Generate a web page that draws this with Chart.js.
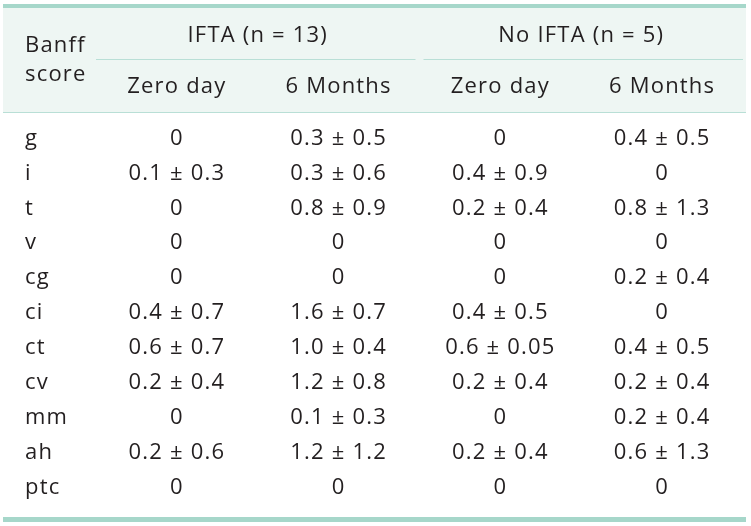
<!DOCTYPE html>
<html>
<head>
<meta charset="utf-8">
<script src="https://cdn.jsdelivr.net/npm/chart.js@4"></script>
<style>
  body { margin: 0; background: #fff; }
  #wrap { width: 751px; height: 526px; }
</style>
</head>
<body>
<div id="wrap"><canvas id="banff_table" width="751" height="526"></canvas></div>
<script>
// table content
const rows = ['g', 'i', 't', 'v', 'cg', 'ci', 'ct', 'cv', 'mm', 'ah', 'ptc']
const columns = ['Zero day', '6 Months', 'Zero day', '6 Months']
const groups = ['IFTA (n = 13)', 'No IFTA (n = 5)']
const iftaZero = ['0', '0.1 ± 0.3', '0', '0', '0', '0.4 ± 0.7', '0.6 ± 0.7', '0.2 ± 0.4', '0', '0.2 ± 0.6', '0']
const iftaSix = ['0.3 ± 0.5', '0.3 ± 0.6', '0.8 ± 0.9', '0', '0', '1.6 ± 0.7', '1.0 ± 0.4', '1.2 ± 0.8', '0.1 ± 0.3', '1.2 ± 1.2', '0']
const noIftaZero = ['0', '0.4 ± 0.9', '0.2 ± 0.4', '0', '0', '0.4 ± 0.5', '0.6 ± 0.05', '0.2 ± 0.4', '0', '0.2 ± 0.4', '0']
const noIftaSix = ['0.4 ± 0.5', '0', '0.8 ± 1.3', '0', '0.2 ± 0.4', '0', '0.4 ± 0.5', '0.2 ± 0.4', '0.2 ± 0.4', '0.6 ± 1.3', '0']
const cells = [iftaZero, iftaSix, noIftaZero, noIftaSix]

const FONT = '22px "Open Sans", sans-serif'
const TEXT = '#231f20'
const TEAL = '#a6d7ca'
const TEAL_THIN = '#b9dfd6'
const BAND = '#eef6f3'

const tablePlugin = {
    id: 'tablePlugin',
    beforeDraw(chart){
        const ctx = chart.ctx
        ctx.letterSpacing = '1.2px'
        // header band
        ctx.fillStyle = BAND
        ctx.fillRect(3, 8, 743, 104)
    },
    afterDraw(chart){
        const ctx = chart.ctx
        const x = chart.scales.x
        const y = chart.scales.y
        const area = chart.chartArea
        ctx.save()
        ctx.letterSpacing = '1.2px'
        ctx.font = FONT
        ctx.textBaseline = 'middle'

        // lines
        ctx.fillStyle = TEAL
        ctx.fillRect(3, 4, 743, 4)
        ctx.fillRect(3, 517, 743, 5)
        ctx.fillStyle = TEAL_THIN
        ctx.fillRect(3, 112, 743, 1)
        const mid = (x.getPixelForValue(1) + x.getPixelForValue(2)) / 2
        ctx.fillRect(area.left, 59, mid - 4 - area.left, 1)
        ctx.fillRect(mid + 4, 59, area.right - mid - 4, 1)

        ctx.fillStyle = TEXT
        // stub header
        ctx.textAlign = 'left'
        ctx.fillText('Banff', 25, 46)
        ctx.fillText('score', 25, 75)

        // group headers
        ctx.textAlign = 'center'
        for(let g=0; g<groups.length; g++){
            const cx = (x.getPixelForValue(g*2) + x.getPixelForValue(g*2+1)) / 2
            ctx.fillText(groups[g], cx, 36)
        }
        // sub headers
        for(let c=0; c<columns.length; c++){
            ctx.fillText(columns[c], x.getPixelForValue(c), 87)
        }
        // cells
        for(let c=0; c<cells.length; c++){
            for(let r=0; r<rows.length; r++){
                ctx.fillText(cells[c][r], x.getPixelForValue(c), y.getPixelForValue(r))
            }
        }
        ctx.restore()
    }
}

const ctx = document.getElementById('banff_table').getContext('2d')
const myChart = new Chart(ctx, {
    type: 'bar',
    data: {
        labels: columns,
        datasets: []
    },
    options: {
        responsive: false,
        animation: false,
        events: [],
        layout: {
            padding: {left: 25, right: 8, top: 121, bottom: 21}
        },
        plugins: {
            legend: {display: false},
            tooltip: {enabled: false}
        },
        scales: {
            x: {
                type: 'category',
                offset: true,
                display: false
            },
            y: {
                type: 'category',
                labels: rows,
                offset: true,
                grid: {display: false},
                border: {display: false},
                afterFit: function(scale){ scale.width = 71 },
                ticks: {
                    crossAlign: 'far',
                    color: TEXT,
                    font: {family: '"Open Sans", sans-serif', size: 22},
                    autoSkip: false
                }
            }
        }
    },
    plugins: [tablePlugin]
})
</script>
</body>
</html>
